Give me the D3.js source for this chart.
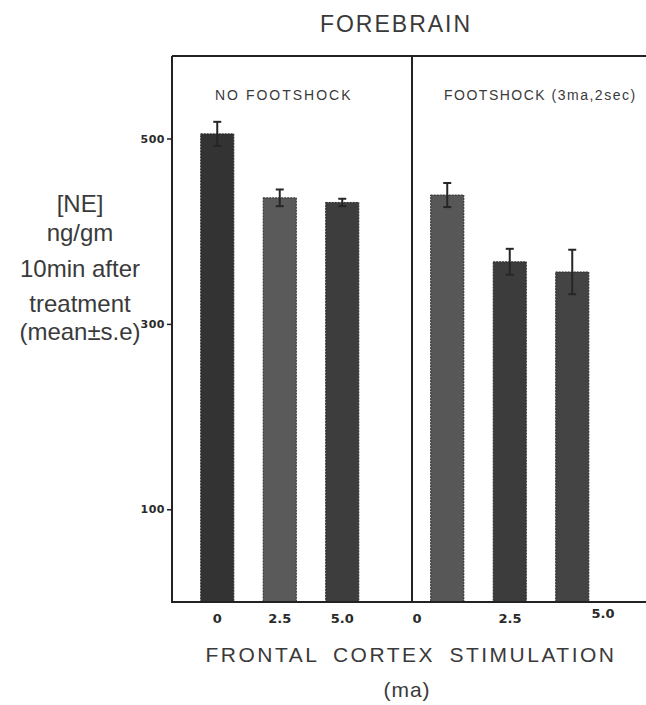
<!DOCTYPE html>
<html>
<head>
<meta charset="utf-8">
<script src="https://cdn.jsdelivr.net/npm/d3@7"></script>
<style>
  body { margin: 0; background: #fff; }
  svg { display: block; }
  text { font-family: "Liberation Sans", Arial, sans-serif; fill: #3a3a3a; }
  .num { font-family: "DejaVu Sans", sans-serif; font-weight: bold; fill: #2a2a2a; }
</style>
</head>
<body>
<div id="chart"></div>
<script>
const WIDTH = 646;
const HEIGHT = 705;

// values (ng/gm, mean and s.e.)
const doses = ["0", "2.5", "5.0"];
const noShockMean = [505, 436, 431];
const noShockSE = [13, 9, 4];
const shockMean = [439, 367, 356];
const shockSE = [13, 14, 24];
const yTicks = [100, 300, 500];
const panelTitles = ["NO FOOTSHOCK", "FOOTSHOCK (3ma,2sec)"];
const yLabelLines = ["[NE]", "ng/gm", "10min after", "treatment", "(mean\u00b1s.e)"];

const noShockColors = ["#333333", "#5a5a5a", "#3d3d3d"];
const shockColors = ["#575757", "#3c3c3c", "#444444"];

const FRAME_LEFT = 172, FRAME_RIGHT = WIDTH, FRAME_TOP = 56, FRAME_BOTTOM = 602, DIVIDER = 412;

let svg = d3.select("#chart")
    .append("svg")
    .attr("width", WIDTH)
    .attr("height", HEIGHT);

let y = d3.scaleLinear()
    .domain([0, 589])
    .range([FRAME_BOTTOM, FRAME_TOP]);

let xLeft = d3.scaleBand()
    .domain(doses)
    .range([186, 373.5])
    .paddingInner(0.47)
    .paddingOuter(0.235);

let xRight = d3.scaleBand()
    .domain(doses)
    .range([416, 603.5])
    .paddingInner(0.47)
    .paddingOuter(0.235);

// the right panel's dose labels are spread wider than its bars
let xRightLabels = d3.scalePoint()
    .domain(doses)
    .range([417, 603]);

// title
svg.append("text")
    .attr("x", 396)
    .attr("y", 32)
    .attr("text-anchor", "middle")
    .style("font-size", "23px")
    .style("letter-spacing", "2px")
    .text("FOREBRAIN");

// frame
svg.append("line")
    .attr("x1", FRAME_LEFT).attr("x2", FRAME_RIGHT)
    .attr("y1", FRAME_TOP).attr("y2", FRAME_TOP)
    .attr("stroke", "#222").attr("stroke-width", 2);
svg.append("line")
    .attr("x1", DIVIDER).attr("x2", DIVIDER)
    .attr("y1", FRAME_TOP).attr("y2", FRAME_BOTTOM)
    .attr("stroke", "#222").attr("stroke-width", 2);

// y axis
let yAxis = svg.append("g")
    .attr("transform", `translate(${FRAME_LEFT},0)`)
    .call(d3.axisLeft(y).tickValues(yTicks).tickSize(5).tickPadding(2).tickSizeOuter(0));
yAxis.select(".domain")
    .attr("d", `M0,${FRAME_TOP}V${FRAME_BOTTOM}`)
    .attr("stroke", "#222")
    .attr("stroke-width", 2);
yAxis.selectAll(".tick line").attr("stroke", "#222").attr("stroke-width", 1.5);
yAxis.selectAll(".tick text")
    .attr("class", "num")
    .style("font-size", "11px")
    .style("letter-spacing", "0.5px");

// panel titles
svg.append("text")
    .attr("x", 215).attr("y", 100)
    .style("font-size", "14px")
    .style("letter-spacing", "2px")
    .text(panelTitles[0]);
svg.append("text")
    .attr("x", 444).attr("y", 100)
    .style("font-size", "14px")
    .style("letter-spacing", "1.5px")
    .text(panelTitles[1]);

function drawPanel(cls, x, means, ses, colors) {
    let data = doses.map((d, i) => ({dose: d, mean: means[i], se: ses[i], color: colors[i]}));

    svg.selectAll(`rect.${cls}`)
        .data(data)
        .enter()
        .append("rect")
        .attr("class", cls)
        .attr("x", d => x(d.dose))
        .attr("y", d => y(d.mean))
        .attr("width", x.bandwidth())
        .attr("height", d => y(0) - y(d.mean))
        .attr("fill", d => d.color)
        .attr("stroke", "#2a2a2a")
        .attr("stroke-width", 1)
        .attr("stroke-dasharray", "2,1");

    let err = svg.selectAll(`g.${cls}-err`)
        .data(data)
        .enter()
        .append("g")
        .attr("class", `${cls}-err`)
        .attr("stroke", "#262626")
        .attr("stroke-width", 2);

    err.append("line")
        .attr("x1", d => x(d.dose) + x.bandwidth() / 2)
        .attr("x2", d => x(d.dose) + x.bandwidth() / 2)
        .attr("y1", d => y(d.mean + d.se))
        .attr("y2", d => y(d.mean - d.se));
    err.append("line")
        .attr("x1", d => x(d.dose) + x.bandwidth() / 2 - 4)
        .attr("x2", d => x(d.dose) + x.bandwidth() / 2 + 4)
        .attr("y1", d => y(d.mean + d.se))
        .attr("y2", d => y(d.mean + d.se));
    err.append("line")
        .attr("x1", d => x(d.dose) + x.bandwidth() / 2 - 4)
        .attr("x2", d => x(d.dose) + x.bandwidth() / 2 + 4)
        .attr("y1", d => y(d.mean - d.se))
        .attr("y2", d => y(d.mean - d.se));
}

drawPanel("noshock", xLeft, noShockMean, noShockSE, noShockColors);
drawPanel("shock", xRight, shockMean, shockSE, shockColors);

// bottom axis line, drawn over the bar bases
svg.append("line")
    .attr("x1", FRAME_LEFT - 1).attr("x2", FRAME_RIGHT)
    .attr("y1", FRAME_BOTTOM).attr("y2", FRAME_BOTTOM)
    .attr("stroke", "#222").attr("stroke-width", 2);

// dose labels
svg.selectAll("text.dose-left")
    .data(doses)
    .enter()
    .append("text")
    .attr("class", "num dose-left")
    .attr("x", d => xLeft(d) + xLeft.bandwidth() / 2)
    .attr("y", 623)
    .attr("text-anchor", "middle")
    .style("font-size", "13px")
    .text(d => d);

svg.selectAll("text.dose-right")
    .data(doses)
    .enter()
    .append("text")
    .attr("class", "num dose-right")
    .attr("x", d => xRightLabels(d))
    .attr("y", (d, i) => i === 2 ? 618 : 623)
    .attr("text-anchor", "middle")
    .style("font-size", "13px")
    .text(d => d);

// axis titles
svg.append("text")
    .attr("x", 411).attr("y", 662)
    .attr("text-anchor", "middle")
    .style("font-size", "21px")
    .style("letter-spacing", "2.5px")
    .style("word-spacing", "6px")
    .text("FRONTAL CORTEX STIMULATION");
svg.append("text")
    .attr("x", 407).attr("y", 697)
    .attr("text-anchor", "middle")
    .style("font-size", "21px")
    .style("letter-spacing", "1px")
    .text("(ma)");

let yBaselines = [212, 241, 277, 312, 340];
svg.selectAll("text.ylabel")
    .data(yLabelLines)
    .enter()
    .append("text")
    .attr("class", "ylabel")
    .attr("x", 80)
    .attr("y", (d, i) => yBaselines[i])
    .attr("text-anchor", "middle")
    .style("font-size", "24px")
    .text(d => d);
</script>
</body>
</html>
